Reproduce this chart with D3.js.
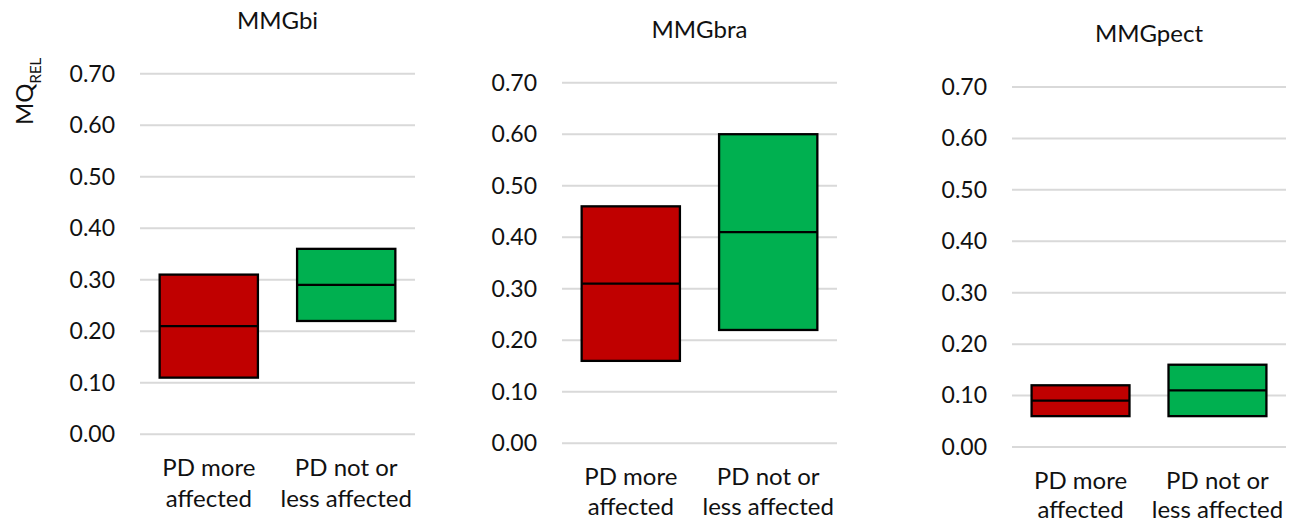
<!DOCTYPE html>
<html>
<head>
<meta charset="utf-8">
<script src="https://cdn.jsdelivr.net/npm/d3@7"></script>
<style>
  html, body { margin: 0; padding: 0; background: #fff; }
  svg { display: block; }
  text { font-family: Lato, "Open Sans", sans-serif; fill: #111; }
</style>
</head>
<body>
<svg id="chart" width="1299" height="522"></svg>
<script>
// ---- data ----
const panelTitles = ["MMGbi", "MMGbra", "MMGpect"];
const categories = ["PD more affected", "PD not or less affected"];
const categoryLines = [["PD more", "affected"], ["PD not or", "less affected"]];
const lowValues    = [[0.11, 0.22], [0.16, 0.22], [0.06, 0.06]];
const medianValues = [[0.21, 0.29], [0.31, 0.41], [0.09, 0.11]];
const highValues   = [[0.31, 0.36], [0.46, 0.60], [0.12, 0.16]];
const tickValues = [0, 0.1, 0.2, 0.3, 0.4, 0.5, 0.6, 0.7];
const boxColors = ["#C00000", "#00B050"];
const yAxisLabel = "MQ";
const yAxisSub = "REL";

// ---- layout ----
const layout = [
  { x0: 140, x1: 415, yTop: 73.7, yBot: 434.3, titleY: 21, cat1: 468, cat2: 499 },
  { x0: 562, x1: 837, yTop: 82.7, yBot: 443.3, titleY: 30, cat1: 477, cat2: 507 },
  { x0: 1012, x1: 1286, yTop: 87, yBot: 447, titleY: 34, cat1: 481, cat2: 510 }
];
const tickFont = 23;
const labelFont = 24;

const svg = d3.select("#chart");

panelTitles.forEach((title, i) => {
  const L = layout[i];
  const g = svg.append("g");
  const y = d3.scaleLinear().domain([0, 0.7]).range([L.yBot, L.yTop]);
  const x = d3.scaleBand().domain(categories).range([L.x0, L.x1])
    .paddingInner(0.285).paddingOuter(0.143);

  // gridlines
  g.selectAll("line.grid").data(tickValues).join("line")
    .attr("class", "grid")
    .attr("x1", L.x0).attr("x2", L.x1)
    .attr("y1", d => y(d)).attr("y2", d => y(d))
    .attr("stroke", "#d9d9d9").attr("stroke-width", 2);

  // y axis labels
  const yAxis = d3.axisLeft(y).tickValues(tickValues).tickFormat(d3.format(".2f"))
    .tickSize(0).tickPadding(25);
  const ax = g.append("g").attr("transform", `translate(${L.x0},0)`).call(yAxis);
  ax.select(".domain").remove();
  ax.selectAll("text").attr("font-size", tickFont)
    .attr("font-family", "Lato, 'Open Sans', sans-serif").attr("fill", "#111");

  // boxes
  const data = categories.map((c, j) => ({
    c, j, low: lowValues[i][j], med: medianValues[i][j], high: highValues[i][j]
  }));
  g.selectAll("rect.box").data(data).join("rect")
    .attr("class", "box")
    .attr("x", d => x(d.c)).attr("width", x.bandwidth())
    .attr("y", d => y(d.high)).attr("height", d => y(d.low) - y(d.high))
    .attr("fill", d => boxColors[d.j])
    .attr("stroke", "#000").attr("stroke-width", 2.3);
  g.selectAll("line.med").data(data).join("line")
    .attr("class", "med")
    .attr("x1", d => x(d.c)).attr("x2", d => x(d.c) + x.bandwidth())
    .attr("y1", d => y(d.med)).attr("y2", d => y(d.med))
    .attr("stroke", "#000").attr("stroke-width", 2.3);

  // category labels
  data.forEach(d => {
    const cx = x(d.c) + x.bandwidth() / 2;
    const t = g.append("text").attr("text-anchor", "middle").attr("font-size", labelFont);
    t.append("tspan").attr("x", cx).attr("y", L.cat1).attr("dy", "0.35em").text(categoryLines[d.j][0]);
    t.append("tspan").attr("x", cx).attr("y", L.cat2).attr("dy", "0.35em").text(categoryLines[d.j][1]);
  });

  // title
  g.append("text").attr("x", (L.x0 + L.x1) / 2).attr("y", L.titleY).attr("dy", "0.35em")
    .attr("text-anchor", "middle").attr("font-size", labelFont).text(title);
});

// y axis title
const yt = svg.append("text")
  .attr("transform", "translate(33,125) rotate(-90)")
  .attr("font-size", 24);
yt.append("tspan").text(yAxisLabel);
yt.append("tspan").attr("font-size", 15).attr("dy", 8).text(yAxisSub);
</script>
</body>
</html>
